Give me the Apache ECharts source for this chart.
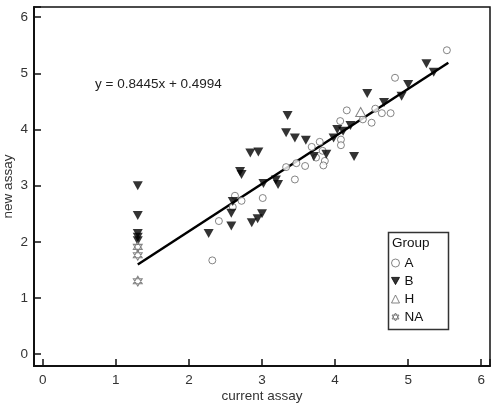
<!DOCTYPE html>
<html>
<head>
<meta charset="utf-8">
<script src="https://cdn.jsdelivr.net/npm/echarts@6/dist/echarts.min.js"></script>
<style>html,body{margin:0;padding:0;background:#fff}#c{width:496px;height:404px}</style>
</head>
<body>
<div id="c"></div>
<script>
// ---- data ----
const groupA = [[2.32,1.67],[2.41,2.37],[2.60,2.62],[2.63,2.82],[2.72,2.73],[3.01,2.78],[3.33,3.33],[3.45,3.11],[3.47,3.40],[3.59,3.35],[3.68,3.69],[3.79,3.78],[3.83,3.62],[3.74,3.50],[3.86,3.44],[3.84,3.36],[4.07,4.15],[4.08,3.82],[4.08,3.72],[4.16,4.34],[4.38,4.18],[4.50,4.12],[4.55,4.37],[4.64,4.29],[4.76,4.29],[4.82,4.92],[5.53,5.41]];
const groupB = [[1.3,3.0],[1.3,2.47],[1.3,2.15],[1.3,2.08],[1.3,2.02],[2.27,2.15],[2.58,2.28],[2.58,2.51],[2.60,2.72],[2.70,3.25],[2.72,3.20],[2.84,3.58],[2.95,3.60],[2.86,2.34],[2.94,2.41],[3.00,2.50],[3.02,3.04],[3.19,3.10],[3.22,3.02],[3.33,3.94],[3.35,4.25],[3.45,3.85],[3.60,3.81],[3.71,3.52],[3.88,3.56],[3.98,3.85],[4.03,4.00],[4.11,3.97],[4.21,4.07],[4.26,3.52],[4.44,4.64],[4.67,4.48],[4.91,4.59],[5.00,4.80],[5.25,5.17],[5.35,5.02]];
const groupH = [[4.35,4.31]];
const groupNA = [[1.3,1.91],[1.3,1.76],[1.3,1.30]];
const regSlope = 0.8445;
const regIntercept = 0.4994;
const regXRange = [1.3, 5.55];
const groupNames = ['A','B','H','NA'];
const xTitle = 'current assay';
const yTitle = 'new assay';

const regLine = regXRange.map(x => [x, regSlope * x + regIntercept]);
const eqText = 'y = ' + regSlope.toFixed(4) + 'x + ' + regIntercept.toFixed(4);

const FONT = '"Liberation Sans", Arial, sans-serif';
const hexagram = 'path://M0,-10L8.66,5L-8.66,5Z M0,10L8.66,-5L-8.66,-5Z';
const downTri = 'path://M0,0L10,0L5,9Z';
const intLabel = v => (Math.abs(v - Math.round(v)) < 1e-6 ? String(Math.round(v)) : '');

const chart = echarts.init(document.getElementById('c'), null, {renderer: 'canvas'});
chart.setOption({
  animation: false,
  backgroundColor: '#fff',
  textStyle: {fontFamily: FONT},
  grid: {left: 34, right: 6, top: 7, bottom: 38, containLabel: false, outerBoundsMode: 'none', show: true, borderColor: '#111', borderWidth: 1.5, backgroundColor: 'transparent'},
  xAxis: {
    type: 'value', min: -0.12, max: 6.12, splitNumber: 6,
    name: xTitle, nameLocation: 'middle', nameGap: 23, nameMoveOverlap: false,
    nameTextStyle: {fontSize: 13.5, color: '#333', fontFamily: FONT},
    axisLine: {onZero: false, lineStyle: {color: '#111', width: 2}},
    axisTick: {inside: true, length: 7, lineStyle: {color: '#111', width: 1.5}},
    axisLabel: {formatter: intLabel, fontSize: 13.5, color: '#333', margin: 7, fontFamily: FONT},
    splitLine: {show: false}
  },
  yAxis: {
    type: 'value', min: -0.21, max: 6.18, splitNumber: 6,
    name: yTitle, nameLocation: 'middle', nameGap: 19, nameRotate: 90, nameMoveOverlap: false,
    nameTextStyle: {fontSize: 13.5, color: '#333', fontFamily: FONT},
    axisLine: {onZero: false, lineStyle: {color: '#111', width: 2}},
    axisTick: {inside: true, length: 7, lineStyle: {color: '#111', width: 1.5}},
    axisLabel: {formatter: intLabel, fontSize: 13.5, color: '#333', margin: 6, fontFamily: FONT},
    splitLine: {show: false}
  },
  legend: {
    orient: 'vertical', left: 391, top: 256, padding: 0,
    itemWidth: 8, itemHeight: 8, itemGap: 4,
    itemStyle: {borderWidth: 1},
    textStyle: {fontSize: 13.5, color: '#111', fontFamily: FONT, lineHeight: 14, padding: [0,0,0,0]},
    data: groupNames
  },
  graphic: [
    {type: 'rect', left: 386, top: 230, shape: {width: 60, height: 97}, style: {fill: 'none', stroke: '#333', lineWidth: 1.5}, z: 1},
    {type: 'text', left: 392, top: 236, style: {text: 'Group', fontSize: 13.5, fill: '#111', fontFamily: FONT}, z: 2},
    {type: 'text', left: 95, top: 77, style: {text: eqText, fontSize: 13.5, fill: '#222', fontFamily: FONT}, z: 2}
  ],
  series: [
    {name: 'reg', type: 'line', data: regLine, showSymbol: false, symbol: 'none', lineStyle: {color: '#000', width: 2.5}, z: 1, silent: true},
    {name: 'A', type: 'scatter', data: groupA, symbol: 'circle', symbolSize: 7, itemStyle: {color: '#fff', borderColor: '#666', borderWidth: 1}, z: 3},
    {name: 'B', type: 'scatter', data: groupB, symbol: downTri, symbolSize: [10, 9], itemStyle: {color: '#000', borderColor: '#000', borderWidth: 0}, z: 4},
    {name: 'H', type: 'scatter', data: groupH, symbol: 'triangle', symbolSize: [10, 9], itemStyle: {color: '#fff', borderColor: '#666', borderWidth: 1}, z: 3},
    {name: 'NA', type: 'scatter', data: groupNA, symbol: hexagram, symbolSize: [9, 10], itemStyle: {color: '#fff', borderColor: '#666', borderWidth: 1}, z: 5}
  ]
});
</script>
</body>
</html>
